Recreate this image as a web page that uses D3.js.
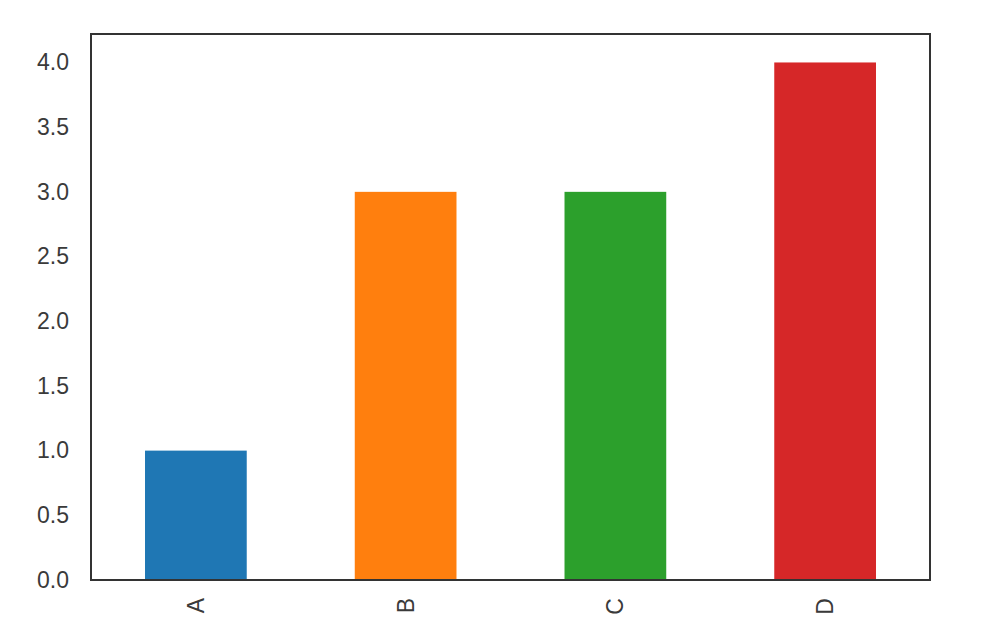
<!DOCTYPE html>
<html>
<head>
<meta charset="utf-8">
<script src="https://cdn.jsdelivr.net/npm/d3@7"></script>
<style>
  html, body { margin: 0; padding: 0; background: #ffffff; }
  svg { display: block; }
</style>
</head>
<body>
<svg id="chart" width="984" height="634"></svg>
<script>
const categories = ["A", "B", "C", "D"];
const values = [1, 3, 3, 4];
const colors = ["#1f77b4", "#ff7f0e", "#2ca02c", "#d62728"];
const yTicks = [0, 0.5, 1.0, 1.5, 2.0, 2.5, 3.0, 3.5, 4.0];
const yMax = 4.22;

const svg = d3.select("#chart");
const mLeft = 91, mRight = 930, mTop = 34, mBottom = 580;

const x = d3.scaleBand()
  .domain(categories)
  .range([mLeft, mRight])
  .paddingInner(0.515)
  .paddingOuter(0.2575);

const y = d3.scaleLinear()
  .domain([0, yMax])
  .range([mBottom, mTop]);

// bars
svg.append("g")
  .selectAll("rect")
  .data(categories)
  .join("rect")
  .attr("x", d => x(d))
  .attr("width", x.bandwidth())
  .attr("y", (d, i) => y(values[i]))
  .attr("height", (d, i) => y(0) - y(values[i]))
  .attr("fill", (d, i) => colors[i]);

// y axis
const yAxis = svg.append("g")
  .attr("transform", `translate(${mLeft},0)`)
  .call(d3.axisLeft(y).tickValues(yTicks).tickFormat(d3.format(".1f")).tickSize(0).tickPadding(22));
yAxis.select(".domain").remove();
yAxis.selectAll("text")
  .attr("font-family", "Liberation Sans, Arial, sans-serif")
  .attr("font-size", 23)
  .attr("fill", "#3a3a3a");

// x axis
const xAxis = svg.append("g")
  .attr("transform", `translate(0,${mBottom})`)
  .call(d3.axisBottom(x).tickSize(0).tickPadding(0));
xAxis.select(".domain").remove();
xAxis.selectAll("text")
  .attr("font-family", "Liberation Sans, Arial, sans-serif")
  .attr("font-size", 23)
  .attr("fill", "#3a3a3a")
  .attr("transform", "rotate(-90)")
  .attr("text-anchor", "end")
  .attr("dy", "0.35em")
  .attr("x", -18)
  .attr("y", 0);

// frame
svg.append("rect")
  .attr("x", mLeft)
  .attr("y", mTop)
  .attr("width", mRight - mLeft)
  .attr("height", mBottom - mTop)
  .attr("fill", "none")
  .attr("stroke", "#333333")
  .attr("stroke-width", 2);
</script>
</body>
</html>
